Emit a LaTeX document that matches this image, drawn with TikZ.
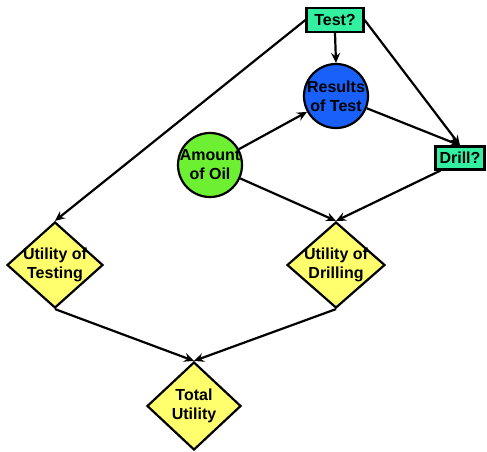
\documentclass[tikz,border=0pt]{standalone}
\usepackage{fontspec}
\setmainfont{Liberation Sans}
\usetikzlibrary{shapes.geometric,arrows.meta}
\definecolor{boxgreen}{RGB}{51,240,160}
\definecolor{circblue}{RGB}{25,95,250}
\definecolor{circgreen}{RGB}{110,240,50}
\definecolor{diayellow}{RGB}{255,255,110}
\tikzset{
  lbl/.style={font=\fontsize{16}{19}\selectfont\bfseries, align=center, inner sep=0pt, text=black},
  decbox/.style={draw=black, line width=2.2pt, fill=boxgreen, inner sep=0pt, font=\fontsize{16}{19}\selectfont\bfseries},
  chance/.style={draw=black, line width=2.2pt, circle, inner sep=0pt, minimum size=64pt},
  util/.style={draw=black, line width=2.2pt, diamond, fill=diayellow, inner sep=0pt},
  arr/.style={line width=2.2pt, -{Stealth[length=10pt,width=9pt,inset=3.5pt]}}
}
\begin{document}
\begin{tikzpicture}[x=1pt,y=-1pt]
\useasboundingbox (0,0) rectangle (487,451);
% decision nodes
\node[decbox, minimum width=57pt, minimum height=24pt] (test) at (335,20) {Test?};
\node[decbox, minimum width=49pt, minimum height=23pt] (drill) at (460,158) {Drill?};
% chance nodes
\node[chance, fill=circblue] (res) at (336,96) {};
\node[lbl] (restxt) at (res) {Results\\of Test};
\node[chance, fill=circgreen] (oil) at (210,165) {};
\node[lbl] (oiltxt) at (oil) {Amount\\of Oil};
% utility nodes
\node[util, minimum width=96pt, minimum height=86pt] (ut) at (55,265) {};
\node[lbl] (uttxt) at (ut) {Utility of\\Testing};
\node[util, minimum width=98pt, minimum height=86pt] (ud) at (336,265) {};
\node[lbl] (udtxt) at (ud) {Utility of\\Drilling};
\node[util, minimum width=94pt, minimum height=88pt] (tu) at (194,406) {};
\node[lbl] (tutxt) at (tu) {Total\\Utility};
% connectors
\draw[arr] (test.west) -- (ut.north);
\draw[arr] (test.south) -- (res.north);
\draw[arr] (test.east) -- (drill.north);
\draw[arr] (oil) -- (res);
\draw[arr] (res) -- (drill.north);
\draw[arr] (oil) -- (ud.north);
\coordinate (dsw) at ([xshift=6pt]drill.south west);
\draw[arr] (dsw) -- (ud.north);
\draw[arr] (ut.south) -- (tu.north);
\draw[arr] (ud.south) -- (tu.north);
\end{tikzpicture}
\end{document}
